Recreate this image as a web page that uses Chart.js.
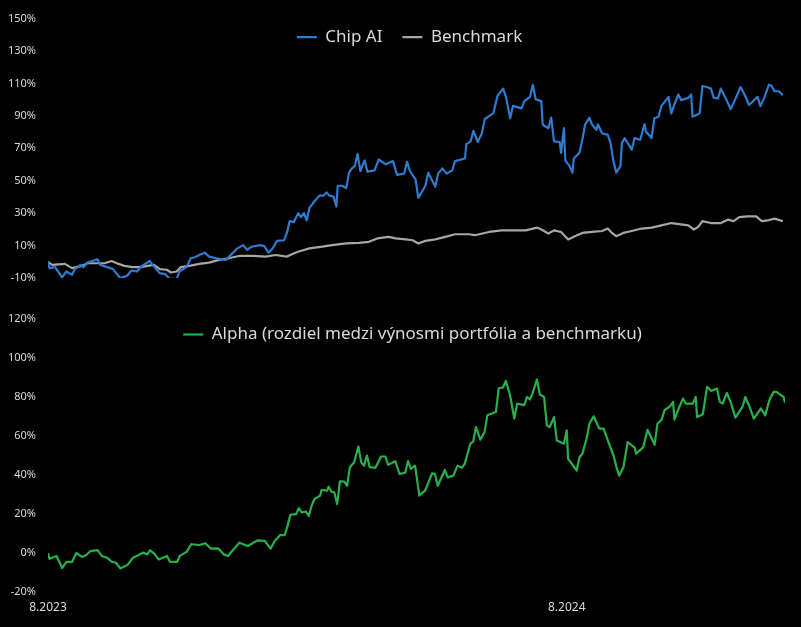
<!DOCTYPE html>
<html>
<head>
<meta charset="utf-8">
<script src="https://cdn.jsdelivr.net/npm/chart.js@4.4.1/dist/chart.umd.min.js"></script>
<style>
  body { margin: 0; background: #000; }
  canvas { display: block; }
</style>
</head>
<body>
<canvas id="topChart" width="801" height="300"></canvas>
<canvas id="alphaChart" width="801" height="327"></canvas>
<script>
// days since start (8.2023) and cumulative returns in %
var chipDays = [0,1,5,10,13,17,19,23,25,28, 35,37,44,46,51,56,59,63,66,72, 74,79,83,86,91,93,98,101,104,107,
  111,114,119,122,126,130,134,138,141,144, 150,153,156,159,162,167,169,171,174,177, 179,181,183,185,188,192,195,197,199,202,
  204,205,208,211,213,215,217,219,221,224, 226,231,234,239,244,247,252,254,256,260, 262,267,269,274,276,279,282,286,288,295,
  296,299,301,304,307,309,315,318,322,324, 327,329,335,337,341,343,345,349,350,354, 356,358,362,363,365,366,369,371,372,376,
  378,380,383,385,388,389,392,394,396,398, 400,402,405,406,408,413,415,419,422,423, 427,429,432,434,439,441,443,446,448,453,
  455,456,461,463,466,469,471,474,476,479, 483,486,490,493,496,502,504,507,510,512, 514,517,520];
var chipVals = [0,-3.9,-3.3,-9.6,-6,-8,-4.5,-1.9,-3.3,-0.5, 1.6,-1.9,-3.9,-4.5,-10,-8.6,-5.4,-6,-2.9,0.5, -1.9,-7,-7.6,-10.6,-10.6,-6,-3.3,2.2,2.8,4.2,
  5.6,3.2,2.2,1.6,1.2,4.8,8.3,10.3,7.3,9.3, 10.3,9.7,5.6,8.3,12.9,13.3,17.8,25.1,24.5,30, 27.5,30,25.5,33.3,36.7,40.8,40.8,42.8,40.8,40.2,
  34.1,46.9,46.9,45.5,55,57.6,59,66.5,56,62.5, 55.6,56.4,63.1,60.1,62.1,53.6,54.4,61.7,56,50.9, 39.4,46.9,55,46.3,54.4,57.6,54.4,56.4,62.1,63.7,
  72.6,74.3,80.8,73.9,79.3,88.1,91.5,102.3,106.8,101.7, 88.5,96.2,94.6,99.1,101.7,109.2,100.3,99.1,84.5,82.4, 89,74.3,73.9,67.2,82.4,62.5,59,55,63.7,67.2,
  75.3,84.5,88.9,84.5,81.4,84.8,79.3,78.7,78.4,73.2, 62.1,55,59,73.2,76.3,69.2,76.3,75.3,84.8,80.4, 76.3,88.5,89.5,96.2,101.7,91.5,96.7,103.2,99.7,101.1,
  103.2,89.5,91.5,108.4,107.8,106.8,101.1,100.7,106.8,101.7, 94.2,99.7,107.8,102.7,96.7,101.7,96,101.7,109.2,108.4, 105.2,105.2,102.7];

var benchDays = [0,3,12,17,24,28,40,45,50,54, 60,65,75,79,84,87,91,94,100,107, 114,121,128,135,145,154,161,169,175,178,
  185,194,201,211,220,227,233,241,246,253, 258,262,267,274,281,288,298,302,312,321, 331,338,346,349,354,358,363,368,372,378,
  385,392,396,399,402,407,413,420,427,434, 441,448,453,457,460,463,469,476,481,485, 489,495,501,505,509,514,520];
var benchVals = [0,-1.9,-1.3,-3.9,-2.5,-0.9,-0.9,0.5,-1.3,-2.5, -3.3,-3.3,-1.9,-4.5,-4.9,-6.6,-6,-3.3,-2.5,-1.3, -0.5,1.2,2.2,3.6,3.6,3.2,4.2,3.2,5.6,6.5,
  8.3,9.3,10.3,11.3,11.7,12.3,14.4,15.4,14.4,13.8, 13.3,11.3,12.9,13.8,15.4,17,17,16.4,18.4,19.4, 19.4,19.4,21.1,19.9,17.4,19.4,18.4,13.8,15.4,17.8,
  18.4,19,20.5,17.8,15.8,17.8,19,20.5,21.1,22.5, 23.9,23.1,22.5,19.9,21.5,25.1,23.9,23.9,26,25.1, 27.5,28,28,25.1,25.5,26.6,25.1];

var alphaDays = [0,1,6,10,13,17,20,24,27,30, 35,38,42,45,48,51,56,60,64,67, 70,72,75,78,84,86,91,93,98,101,
  107,111,115,120,124,127,131,135,141,148, 153,157,160,164,167,169,171,175,177,179, 182,184,186,188,192,193,197,198,200,202,
  204,206,209,211,213,216,219,221,223,225, 227,231,235,238,240,245,248,252,254,256, 259,262,266,268,271,273,275,280,282,286,
  289,292,294,298,300,302,305,308,310,316, 318,321,323,326,329,331,336,338,340,342, 345,347,350,352,354,357,359,364,366,367,
  373,375,377,380,382,385,389,392,395,399, 401,403,406,409,414,415,420,423,426,428, 430,433,435,439,441,442,445,448,450,455,
  457,458,462,465,468,472,474,476,479,482, 485,490,492,495,498,503,506,509,512,514, 519,520];
var alphaVals = [0,-3,-1.5,-7.7,-4.5,-4.6,0,-2,-1,1, 1.5,-1.5,-2.6,-4.5,-5,-7.9,-6.2,-2.4,-1,0.2, -0.7,1.4,-0.3,-3.3,-1.5,-4.5,-4.6,-1.5,0.7,4.5,
  4.1,5,2.2,2.4,-0.7,-1.5,1.9,5.3,3.6,6.5, 6.2,2.2,6.2,9.3,9.1,13.9,19.6,19.9,23,20.8, 21.3,19,24.2,27.7,29.4,32.3,32,34,31.4,31.1,
  25.1,36.8,36.6,34.5,44,46.5,54.6,46.5,44.8,50, 44,43.7,49.5,49.5,45.2,47.1,40.6,41.1,47.1,43.1, 44.8,29.4,32,35.4,40.9,40.6,34.5,42.6,38.8,39.7,
  44.8,43.7,45.7,56,57.2,64.6,58.1,62,70.6,72.3, 84.4,84.9,88.3,81,68.9,76.6,75.8,80,78.7,82.1, 89,81.3,80,65.5,64.6,69.7,57.7,56,62.9,48.3,
  42.3,49.1,50.9,58.6,66.3,70.1,63.8,63.8,57.7,50, 44.3,39.7,44,56.9,54,50.9,54.3,63.2,58.6,55.5, 66.3,68.4,73.2,75.3,77.5,68.4,74.1,79.2,76.6,76.6,
  80,69.7,71.1,85.2,83.1,84.4,77.5,76.6,82.1,76.6, 69.4,74.9,80,74.9,68.9,74.1,70.6,78.4,82.6,82.6, 80,77];

var tickDays = [0, 366];
var tickLabels = ['8.2023', '8.2024'];
var lastDay = 520;

Chart.defaults.font.family = "'Noto Sans', sans-serif";
Chart.defaults.color = '#d9d9d9';

// legend sits over the plot instead of taking space above it
var overlayLegend = {
  id: 'overlayLegend',
  afterInit: function(chart) {
    var lg = chart.legend;
    var fit = lg.fit;
    lg.fit = function() {
      fit.call(lg);
      lg._realHeight = lg.height;
      lg.height = 0;
    };
  },
  afterLayout: function(chart, args, opts) {
    var lg = chart.legend;
    lg.top += opts.dy;
    lg.height = lg._realHeight;
    lg.bottom = lg.top + lg.height;
    lg.left += opts.dx;
    lg.right += opts.dx;
  }
};

function pts(days, vals) {
  return days.map(function(d, i) { return {x: d, y: vals[i]}; });
}

function lineSet(label, days, vals, color) {
  return {
    label: label,
    data: pts(days, vals),
    borderColor: color,
    backgroundColor: color,
    borderWidth: 2.2,
    borderJoinStyle: 'round',
    pointRadius: 0,
    tension: 0
  };
}

function legendOpts() {
  return {
    position: 'top',
    align: 'center',
    labels: {
      usePointStyle: true,
      pointStyle: 'line',
      pointStyleWidth: 20,
      padding: 20,
      color: '#d9d9d9',
      font: {size: 17}
    }
  };
}

function yAxis(min, max) {
  return {
    min: min,
    max: max,
    grid: {display: false, drawTicks: false},
    border: {display: false},
    ticks: {
      stepSize: 20,
      padding: 12,
      font: {size: 11},
      color: '#d9d9d9',
      callback: function(v) { return v + '%'; }
    },
    afterFit: function(s) { s.width = 48; }
  };
}

new Chart(document.getElementById('topChart'), {
  type: 'line',
  data: {
    datasets: [
      lineSet('Chip AI', chipDays, chipVals, '#2e7bcf'),
      lineSet('Benchmark', benchDays, benchVals, '#a6a6a6')
    ]
  },
  options: {
    responsive: false,
    animation: false,
    layout: {padding: {top: 16, right: 18, bottom: 22, left: 0}},
    plugins: {legend: legendOpts(), tooltip: {enabled: false}, overlayLegend: {dx: 18, dy: -10}},
    scales: {
      x: {type: 'linear', min: 0, max: lastDay, display: false},
      y: yAxis(-10, 150)
    }
  },
  plugins: [overlayLegend]
});

new Chart(document.getElementById('alphaChart'), {
  type: 'line',
  data: {
    datasets: [
      lineSet('Alpha (rozdiel medzi výnosmi portfólia a benchmarku)', alphaDays, alphaVals, '#28b04f')
    ]
  },
  options: {
    responsive: false,
    animation: false,
    layout: {padding: {top: 19, right: 16, bottom: 0, left: 0}},
    plugins: {legend: legendOpts(), tooltip: {enabled: false}, overlayLegend: {dx: 20, dy: -13}},
    scales: {
      x: {
        type: 'linear',
        min: 0,
        max: lastDay,
        grid: {display: false, drawTicks: false},
        border: {display: false},
        afterBuildTicks: function(s) {
          s.ticks = tickDays.map(function(v) { return {value: v}; });
        },
        ticks: {
          padding: 8,
          autoSkip: false,
          maxRotation: 0,
          font: {size: 12},
          color: '#d9d9d9',
          callback: function(v, i) { return tickLabels[i]; }
        },
        afterFit: function(s) { s.height = 35; }
      },
      y: yAxis(-20, 120)
    }
  },
  plugins: [overlayLegend]
});
</script>
</body>
</html>
